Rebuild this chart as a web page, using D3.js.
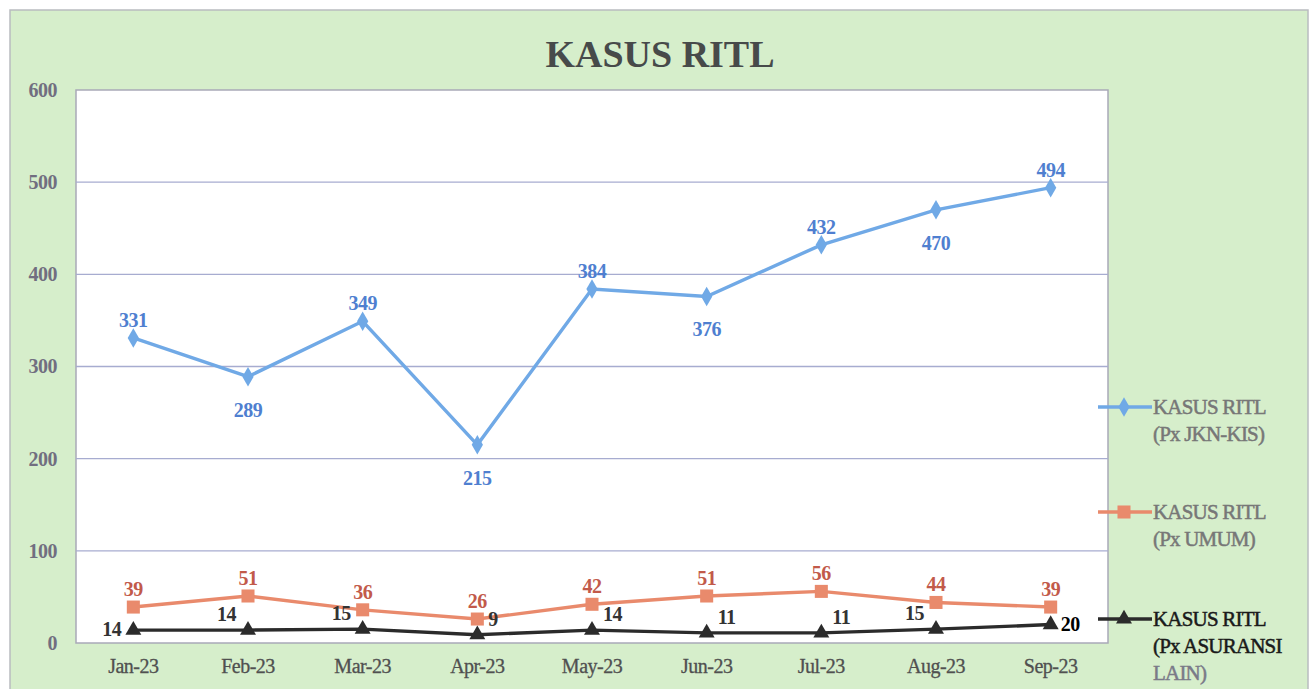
<!DOCTYPE html>
<html>
<head>
<meta charset="utf-8">
<script src="https://cdn.jsdelivr.net/npm/d3@7"></script>
<style>
  body { margin: 0; background: #fff; }
  text { font-family: "Liberation Serif", "Times New Roman", serif; }
</style>
</head>
<body>
<div id="chart"></div>
<script>
var months = ["Jan-23","Feb-23","Mar-23","Apr-23","May-23","Jun-23","Jul-23","Aug-23","Sep-23"];
var jknKis = [331, 289, 349, 215, 384, 376, 432, 470, 494];
var umum = [39, 51, 36, 26, 42, 51, 56, 44, 39];
var asuransiLain = [14, 14, 15, 9, 14, 11, 11, 15, 20];
var yTicks = [0, 100, 200, 300, 400, 500, 600];

// where each data label sits relative to its point
var jknPos = ["up","down","up","down","up","down","up","down","up"];
var umumPos = ["up","up","up","up","up","up","up","up","up"];
var lainPos = ["left","upleft","upleft","upright","upright","upright","upright","upleft","right"];

var width = 1314,
    height = 689,
    plot = {left: 76, right: 1108, top: 90, bottom: 643};

var svg = d3.select("#chart")
    .append("svg")
    .attr("width", width)
    .attr("height", height);

// green outer panel
svg.append("rect")
    .attr("x", 10).attr("y", 10)
    .attr("width", 1298).attr("height", 690)
    .attr("fill", "#d6eecb")
    .attr("stroke", "#b9bcc0")
    .attr("stroke-width", 1.5);

svg.append("text")
    .attr("x", 660).attr("y", 67)
    .attr("text-anchor", "middle")
    .attr("font-size", "38px")
    .attr("font-weight", "bold")
    .attr("fill", "#474a4a")
    .text("KASUS RITL");

svg.append("rect")
    .attr("x", plot.left).attr("y", plot.top)
    .attr("width", plot.right - plot.left)
    .attr("height", plot.bottom - plot.top)
    .attr("fill", "#fff")
    .attr("stroke", "#a9a9b8")
    .attr("stroke-width", 1.5);

var x = d3.scaleBand()
    .domain(months)
    .range([plot.left, plot.right]);

var y = d3.scaleLinear()
    .domain([0, 600])
    .range([plot.bottom, plot.top]);

function cx(i) { return x(months[i]) + x.bandwidth() / 2; }

// gridlines
svg.append("g")
    .selectAll("line")
    .data(yTicks.slice(1, -1))
    .enter()
    .append("line")
    .attr("x1", plot.left).attr("x2", plot.right)
    .attr("y1", function(d){ return y(d); })
    .attr("y2", function(d){ return y(d); })
    .attr("stroke", "#a7acd0")
    .attr("stroke-width", 1.3);

var yAxis = svg.append("g")
    .attr("transform", "translate(" + (plot.left - 19) + ",0)")
    .call(d3.axisLeft(y).tickValues(yTicks).tickSize(0).tickPadding(0));
yAxis.select(".domain").remove();
yAxis.selectAll("text")
    .attr("font-size", "20px")
    .attr("font-weight", "bold")
    .attr("letter-spacing", "-0.5px")
    .attr("fill", "#716e80")
    .attr("font-family", "Liberation Serif, serif");

var xAxis = svg.append("g")
    .attr("transform", "translate(0," + plot.bottom + ")")
    .call(d3.axisBottom(x).tickSize(0).tickPadding(16));
xAxis.select(".domain").remove();
xAxis.selectAll("text")
    .attr("font-size", "20px")
    .attr("fill", "#505050")
    .attr("stroke", "#505050")
    .attr("stroke-width", 0.3)
    .attr("letter-spacing", "-0.5px")
    .attr("font-family", "Liberation Serif, serif");

var line = d3.line()
    .x(function(d, i){ return cx(i); })
    .y(function(d){ return y(d); });

var series = [
  {values: jknKis, color: "#70a9e6", label: "#4f7fd0", shape: d3.symbolDiamond, size: 110, pos: jknPos,
   name: ["KASUS RITL", "(Px JKN-KIS)"], ly: 407, textColor: ["#777777", "#777777"]},
  {values: umum, color: "#e98a6c", label: "#c25a4a", shape: d3.symbolSquare, size: 170, pos: umumPos,
   name: ["KASUS RITL", "(Px UMUM)"], ly: 512, textColor: ["#777777", "#777777"]},
  {values: asuransiLain, color: "#2b2b2b", label: "#333333", shape: d3.symbolTriangle, size: 110, pos: lainPos,
   name: ["KASUS RITL", "(Px ASURANSI", "LAIN)"], ly: 619, textColor: ["#1a1a1a", "#1a1a1a", "#7a7a88"]}
];

series.forEach(function(s) {
  svg.append("path")
      .datum(s.values)
      .attr("d", line)
      .attr("fill", "none")
      .attr("stroke", s.color)
      .attr("stroke-width", 3.4);

  svg.append("g")
      .selectAll("path")
      .data(s.values)
      .enter()
      .append("path")
      .attr("transform", function(d, i){ return "translate(" + cx(i) + "," + y(d) + ")"; })
      .attr("d", d3.symbol().type(s.shape).size(s.size))
      .attr("fill", s.color);

  svg.append("g")
      .selectAll("text")
      .data(s.values)
      .enter()
      .append("text")
      .attr("x", function(d, i){
        var p = s.pos[i];
        if (p == "left") return cx(i) - 12;
        if (p == "upleft") return cx(i) - 12;
        if (p == "right") return cx(i) + 10;
        if (p == "upright") return cx(i) + 11;
        return cx(i);
      })
      .attr("y", function(d, i){
        var p = s.pos[i];
        if (p == "down") return y(d) + 40;
        if (p == "up") return y(d) - 11;
        if (p == "upleft" || p == "upright") return y(d) - 9;
        return y(d) + 6;
      })
      .attr("text-anchor", function(d, i){
        var p = s.pos[i];
        if (p == "left" || p == "upleft") return "end";
        if (p == "right" || p == "upright") return "start";
        return "middle";
      })
      .attr("font-size", "20px")
      .attr("font-weight", "bold")
      .attr("letter-spacing", "-0.5px")
      .attr("fill", function(d, i){
        return (s.pos[i] == "right" && i == s.values.length - 1) ? "#000" : s.label;
      })
      .text(function(d){ return d; });

  // legend entry
  var lg = svg.append("g");
  lg.append("line")
      .attr("x1", 1098).attr("x2", 1152)
      .attr("y1", s.ly).attr("y2", s.ly)
      .attr("stroke", s.color)
      .attr("stroke-width", 3.4);
  lg.append("path")
      .attr("transform", "translate(1124," + s.ly + ")")
      .attr("d", d3.symbol().type(s.shape).size(s.size))
      .attr("fill", s.color);
  lg.selectAll("text")
      .data(s.name)
      .enter()
      .append("text")
      .attr("x", 1153)
      .attr("y", function(d, i){ return s.ly + 7 + i * 27; })
      .attr("font-size", "21px")
      .attr("letter-spacing", "-0.8px")
      .attr("fill", function(d, i){ return s.textColor[i]; })
      .attr("stroke", function(d, i){ return s.textColor[i]; })
      .attr("stroke-width", 0.5)
      .text(function(d){ return d; });
});
</script>
</body>
</html>
